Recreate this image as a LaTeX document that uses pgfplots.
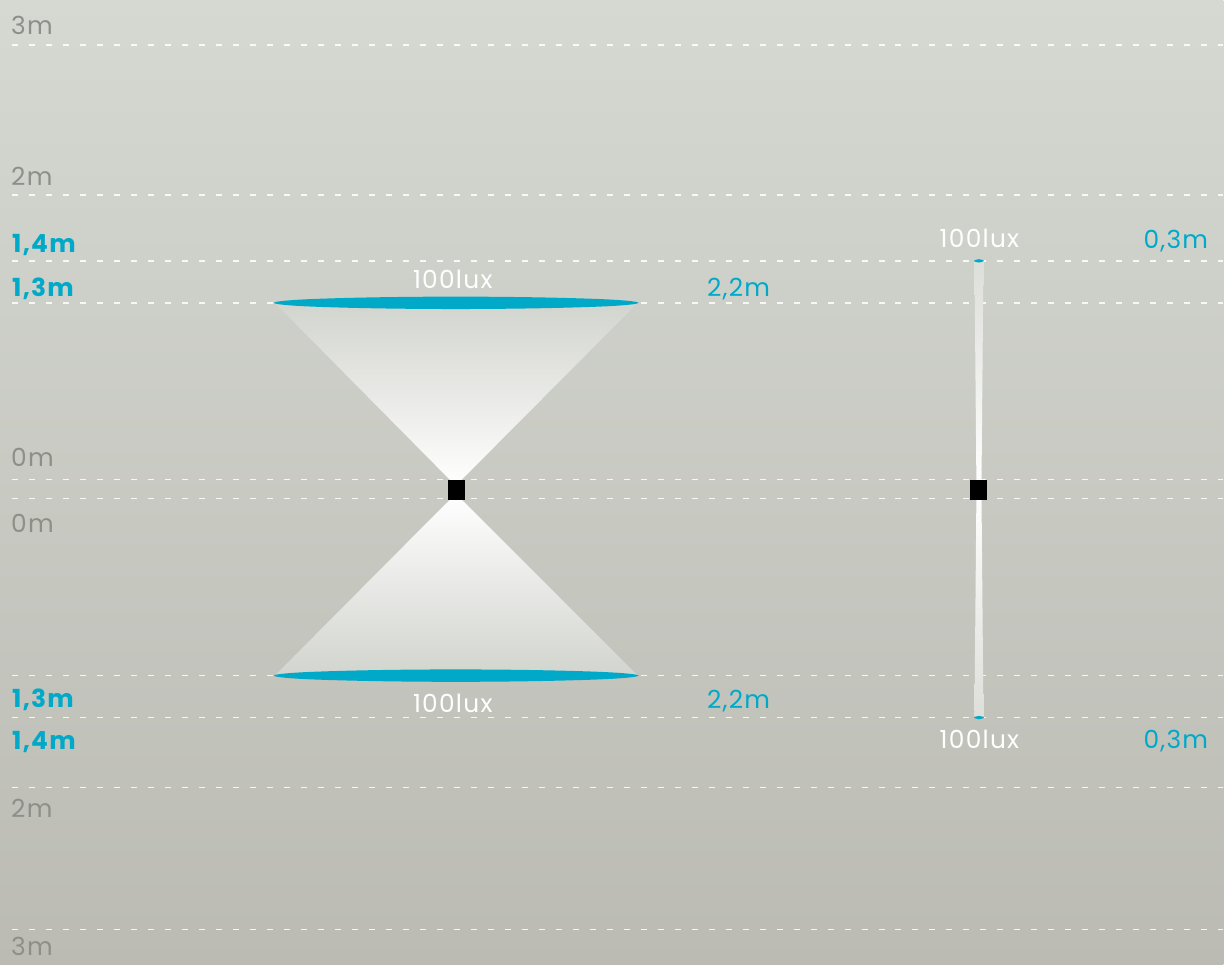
\documentclass[border=0pt]{standalone}
\usepackage{pgfplots}
\pgfplotsset{compat=1.18}
\usepackage{fontspec}
\setmainfont{Poppins}[LetterSpace=5]
\definecolor{bgtop}{HTML}{D5D9D2}
\definecolor{bgmid}{HTML}{C9C8C2}
\definecolor{bgbot}{HTML}{BBBBB3}
\definecolor{lblue}{HTML}{00A9C8}
\definecolor{lgray}{HTML}{8E8E8A}
\definecolor{conetop}{HTML}{D2D4CE}
\tikzset{
  lab/.style={font=\fontsize{25}{29}\selectfont, inner sep=0pt},
  blab/.style={font=\fontsize{25}{29}\selectfont\bfseries, inner sep=0pt},
}
\begin{document}
\begin{tikzpicture}
\begin{axis}[
  width=1224bp, height=965bp, scale only axis,
  xmin=0, xmax=1224, ymin=0, ymax=965, y dir=reverse,
  axis line style={draw=none}, xtick=\empty, ytick=\empty,
  axis background/.style={top color=bgtop, middle color=bgmid, bottom color=bgbot},
  clip=false,
  guide/.style={draw=white, draw opacity=0.85, line width=1.4bp, dash pattern=on 6bp off 11bp, forget plot},
]
% guide lines (y in pixels, top = 0)
\addplot[guide] coordinates {(12,45) (1224,45)};
\addplot[guide] coordinates {(12,195) (1224,195)};
\addplot[guide] coordinates {(12,261) (1224,261)};
\addplot[guide] coordinates {(12,303) (1224,303)};
\addplot[guide] coordinates {(12,480) (1224,480)};
\addplot[guide] coordinates {(12,499) (1224,499)};
\addplot[guide] coordinates {(12,676) (1224,676)};
\addplot[guide] coordinates {(12,718) (1224,718)};
\addplot[guide] coordinates {(12,788) (1224,788)};
\addplot[guide] coordinates {(12,930) (1224,930)};

% light cones
\addplot[draw=none, top color=conetop, middle color=white!90!conetop, bottom color=white] coordinates {(275,303) (638,303) (456,486)} -- cycle;
\addplot[draw=none, top color=white, middle color=white!90!conetop, bottom color=conetop] coordinates {(456,494) (638,676) (275,676)} -- cycle;

% 100 lux ellipses
\addplot[fill=lblue, draw=none, smooth cycle, tension=0.6] coordinates {(274,303) (300,299.8) (370,297.6) (456,296.8) (542,297.6) (612,299.8) (639,303) (612,306.2) (542,308.4) (456,309.2) (370,308.4) (300,306.2)};
\addplot[fill=lblue, draw=none, smooth cycle, tension=0.6] coordinates {(274,676) (300,672.8) (370,670.6) (456,669.8) (542,670.6) (612,672.8) (639,676) (612,679.2) (542,681.4) (456,682.2) (370,681.4) (300,679.2)};

% narrow beam
\addplot[draw=none, top color=conetop!75!white, bottom color=white] coordinates {(975,262) (984,262) (982,489) (977,489)} -- cycle;
\addplot[draw=none, top color=white, bottom color=conetop!75!white] coordinates {(977,490) (982,490) (984,717) (975,717)} -- cycle;
\addplot[fill=lblue, draw=none, smooth cycle] coordinates {(974.5,261) (979.5,259.3) (984.5,261) (979.5,262.7)};
\addplot[fill=lblue, draw=none, smooth cycle] coordinates {(974.5,718) (979.5,716.3) (984.5,718) (979.5,719.7)};

% luminaires
\addplot[fill=black, draw=none] coordinates {(448,480) (465,480) (465,500) (448,500)} -- cycle;
\addplot[fill=black, draw=none] coordinates {(971,480) (988,480) (988,500) (971,500)} -- cycle;

% left scale labels
\node[lab, anchor=base west, text=lgray] at (axis cs:11,35) {3m};
\node[lab, anchor=base west, text=lgray] at (axis cs:11,186) {2m};
\node[blab, anchor=base west, text=lblue] at (axis cs:12,253) {1,4m};
\node[blab, anchor=base west, text=lblue] at (axis cs:12,297) {1,3m};
\node[lab, anchor=base west, text=lgray] at (axis cs:11,467) {0m};
\node[lab, anchor=base west, text=lgray] at (axis cs:11,533) {0m};
\node[blab, anchor=base west, text=lblue] at (axis cs:12,708) {1,3m};
\node[blab, anchor=base west, text=lblue] at (axis cs:12,750) {1,4m};
\node[lab, anchor=base west, text=lgray] at (axis cs:11,818) {2m};
\node[lab, anchor=base west, text=lgray] at (axis cs:11,956) {3m};

% beam labels
\node[lab, anchor=base, text=white] at (axis cs:453,289) {100lux};
\node[lab, anchor=base, text=white] at (axis cs:453,713) {100lux};
\node[lab, anchor=base, text=lblue] at (axis cs:739,297) {2,2m};
\node[lab, anchor=base, text=lblue] at (axis cs:739,709) {2,2m};
\node[lab, anchor=base, text=white] at (axis cs:980,248) {100lux};
\node[lab, anchor=base, text=white] at (axis cs:980,749) {100lux};
\node[lab, anchor=base east, text=lblue] at (axis cs:1209,249) {0,3m};
\node[lab, anchor=base east, text=lblue] at (axis cs:1209,749) {0,3m};
\end{axis}
\end{tikzpicture}
\end{document}
